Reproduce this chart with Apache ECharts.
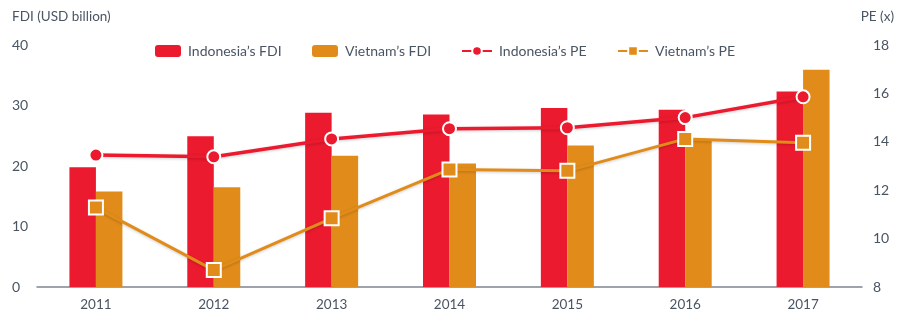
<!DOCTYPE html>
<html><head><meta charset="utf-8">
<script src="https://cdn.jsdelivr.net/npm/echarts@6/dist/echarts.min.js"></script>
<style>html,body{margin:0;padding:0;background:#fff}#c{width:904px;height:324px}</style>
</head><body><div id="c"></div>
<script>
const years = ['2011','2012','2013','2014','2015','2016','2017'];
const indonesiaFDI = [19.8, 24.9, 28.8, 28.5, 29.6, 29.3, 32.3];
const vietnamFDI = [15.8, 16.5, 21.7, 20.4, 23.4, 24.4, 35.9];
const indonesiaPE = [13.45, 13.38, 14.12, 14.54, 14.58, 15.0, 15.86];
const vietnamPE = [11.28, 8.7, 10.84, 12.86, 12.8, 14.12, 13.96];
const leftTicks = [0, 10, 20, 30, 40];
const rightTicks = [8, 10, 12, 14, 16, 18];

const RED = '#EC1A2E', ORANGE = '#E18C1A', TXT = '#4a5563', FONT = 'Lato, sans-serif';
const chart = echarts.init(document.getElementById('c'));
const legendBase = {top: 44, padding: 0, itemWidth: 26, itemHeight: 12, textStyle: {color: TXT, fontFamily: FONT, fontSize: 14, padding: [0,0,0,2]}, itemGap: 0};
chart.setOption({
  animation: false,
  textStyle: {fontFamily: FONT},
  title: [
    {text: 'FDI (USD billion)', left: 12, top: 10, padding: 0, textStyle: {color: TXT, fontSize: 13.5, fontWeight: 'normal', fontFamily: FONT}},
    {text: 'PE (x)', right: 10, top: 10, padding: 0, textStyle: {color: TXT, fontSize: 13.5, fontWeight: 'normal', fontFamily: FONT}}
  ],
  legend: [
    Object.assign({}, legendBase, {left: 155, data: ["Indonesia’s FDI"]}),
    Object.assign({}, legendBase, {left: 312, data: ["Vietnam’s FDI"]}),
    Object.assign({}, legendBase, {left: 461, itemWidth: 30, data: ["Indonesia’s PE"]}),
    Object.assign({}, legendBase, {left: 617, itemWidth: 30, data: ["Vietnam’s PE"]})
  ],
  grid: {left: 37, right: 42, top: 45, bottom: 37},
  xAxis: {
    type: 'category', data: years,
    axisLine: {lineStyle: {color: '#7d858e', width: 1.5}},
    axisTick: {show: false},
    axisLabel: {color: TXT, fontSize: 13.5, margin: 11, fontFamily: FONT}
  },
  yAxis: [
    {type: 'value', min: leftTicks[0], max: leftTicks[leftTicks.length-1], interval: 10,
     splitLine: {show: false}, axisLine: {show: false}, axisTick: {show: false},
     axisLabel: {color: TXT, fontSize: 14, align: 'left', margin: 25, fontFamily: FONT}},
    {type: 'value', min: rightTicks[0], max: rightTicks[rightTicks.length-1], interval: 2,
     splitLine: {show: false}, axisLine: {show: false}, axisTick: {show: false},
     axisLabel: {color: TXT, fontSize: 14, align: 'left', margin: 11, fontFamily: FONT}}
  ],
  series: [
    {name: "Indonesia’s FDI", type: 'bar', data: indonesiaFDI, barWidth: 26.5, barGap: '0%',
     itemStyle: {color: RED}},
    {name: "Vietnam’s FDI", type: 'bar', data: vietnamFDI, barWidth: 26.5, barGap: '0%',
     itemStyle: {color: ORANGE}},
    {name: "Indonesia’s PE", type: 'line', yAxisIndex: 1, data: indonesiaPE,
     symbol: 'circle', symbolSize: 13,
     lineStyle: {color: RED, width: 3.5, shadowColor: 'rgba(0,0,0,0.2)', shadowBlur: 3, shadowOffsetY: 1},
     itemStyle: {color: RED, borderColor: '#fff', borderWidth: 2}, z: 5},
    {name: "Vietnam’s PE", type: 'line', yAxisIndex: 1, data: vietnamPE,
     symbol: 'rect', symbolSize: 14,
     lineStyle: {color: ORANGE, width: 3, shadowColor: 'rgba(0,0,0,0.2)', shadowBlur: 3, shadowOffsetY: 1},
     itemStyle: {color: ORANGE, borderColor: '#fff', borderWidth: 2}, z: 4}
  ]
});
</script></body></html>
